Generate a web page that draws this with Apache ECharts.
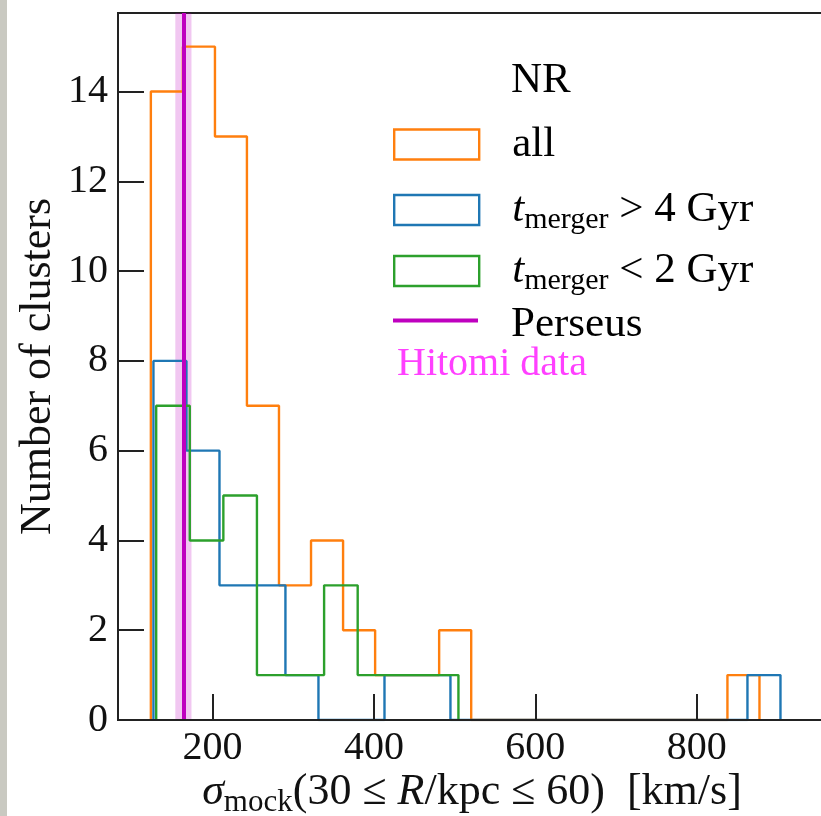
<!DOCTYPE html>
<html>
<head>
<meta charset="utf-8">
<script src="https://cdn.jsdelivr.net/npm/echarts@6/dist/echarts.min.js"></script>
<style>
  html, body { margin: 0; padding: 0; background: #ffffff; }
  #chart { position: absolute; left: 0; top: 0; width: 821px; height: 816px; }
  #stripe { position: absolute; left: 0; top: 0; width: 7px; height: 816px; background: #c9c9c1; z-index: 5; }
</style>
</head>
<body>
<div id="chart"></div>
<div id="stripe"></div>
<script>
// ---- data ----
const allEdges = [123.7, 163.4, 203.1, 242.7, 282.4, 322.1, 361.8, 401.5, 441.1, 480.8, 520.5, 560.2, 599.9, 639.5, 679.2, 718.9, 758.6, 798.3, 837.9, 877.6];
const allCounts = [14, 15, 13, 7, 3, 4, 2, 1, 1, 2, 0, 0, 0, 0, 0, 0, 0, 0, 1];
const oldEdges = [126.9, 167.8, 208.7, 249.5, 290.4, 331.3, 372.2, 413.1, 453.9, 494.8, 535.7, 576.6, 617.5, 658.3, 699.2, 740.1, 781.0, 821.9, 862.7, 903.6];
const oldCounts = [8, 6, 3, 3, 1, 0, 0, 1, 1, 0, 0, 0, 0, 0, 0, 0, 0, 0, 1];
const recentEdges = [130.3, 171.9, 213.5, 255.1, 296.7, 338.3, 379.9, 421.5, 463.1, 504.7];
const recentCounts = [7, 4, 5, 1, 1, 3, 1, 1, 1];
const perseusSigma = 164;
const perseusErr = 10;
const xTicks = [200, 400, 600, 800];
const yTicks = [0, 2, 4, 6, 8, 10, 12, 14];
const seriesNames = ['all', 't_merger > 4 Gyr', 't_merger < 2 Gyr', 'Perseus'];

const FONT = '"Liberation Serif", "DejaVu Serif", serif';
const C_ALL = '#ff7f0e', C_OLD = '#1f77b4', C_NEW = '#2ca02c', C_PER = '#bf00bf';

function stepPoints(edges, counts) {
  const pts = [[edges[0], 0]];
  for (let i = 0; i < counts.length; i++) {
    pts.push([edges[i], counts[i]]);
    pts.push([edges[i + 1], counts[i]]);
  }
  pts.push([edges[counts.length], 0]);
  return pts;
}

function histSeries(name, edges, counts, color) {
  return {
    name: name, type: 'line', data: stepPoints(edges, counts),
    symbol: 'none', showSymbol: false, silent: true, clip: true,
    lineStyle: { color: color, width: 2.4 }, itemStyle: { color: color },
    z: 3
  };
}

const legendRich = {
  p: { fontFamily: FONT, fontSize: 43, lineHeight: 30, color: '#000', padding: [0, 0, 0, 28] },
  q: { fontFamily: FONT, fontSize: 43, lineHeight: 30, color: '#000', padding: [8, 0, 0, 28] },
  t: { fontFamily: FONT, fontSize: 43, fontStyle: 'italic', lineHeight: 30, color: '#000', padding: [0, 0, 0, 28] },
  s: { fontFamily: FONT, fontSize: 30, lineHeight: 30, color: '#000', padding: [20, 0, 0, 0] },
  n: { fontFamily: FONT, fontSize: 43, lineHeight: 30, color: '#000' }
};
const legendLabel = {
  'all': '{p|all}',
  't_merger > 4 Gyr': '{t|t}{s|merger}{n| > 4 Gyr}',
  't_merger < 2 Gyr': '{t|t}{s|merger}{n| < 2 Gyr}',
  'Perseus': '{q|Perseus}'
};
function makeLegend(name, color, top, isLine) {
  return {
    show: true, orient: 'vertical', left: 393, top: top, padding: 0,
    itemWidth: 85, itemHeight: isLine ? 4 : 30, selectedMode: false,
    data: [{ name: name, icon: 'rect' }],
    itemStyle: isLine ? { color: color, borderWidth: 0 } : { color: 'rgba(255,255,255,0)', borderColor: color, borderWidth: 2.4 },
    lineStyle: { opacity: 0 },
    formatter: n => legendLabel[n],
    textStyle: { fontFamily: FONT, fontSize: 43, lineHeight: 30, color: '#000', rich: legendRich }
  };
}

const chart = echarts.init(document.getElementById('chart'), null, { renderer: 'canvas' });
chart.setOption({
  animation: false,
  backgroundColor: '#ffffff',
  grid: { left: 118, top: 13, right: -5, bottom: 96, outerBoundsMode: 'none', containLabel: false, show: true, borderColor: '#222', borderWidth: 2, backgroundColor: '#ffffff' },
  xAxis: {
    type: 'value', min: 83, max: 960, z: 10,
    axisLine: { show: true, lineStyle: { color: '#222', width: 2 } },
    axisTick: { show: true, inside: true, length: 26, lineStyle: { color: '#222', width: 2 }, customValues: xTicks },
    axisLabel: { customValues: xTicks, fontFamily: FONT, fontSize: 40, color: '#111', margin: 8 },
    splitLine: { show: false },
    name: '{i|σ}{s|mock}{n|(30 ≤ }{i|R}{n|/kpc ≤ 60)  [km/s]}',
    nameLocation: 'middle', nameGap: 50, nameMoveOverlap: false,
    nameTextStyle: {
      fontFamily: FONT, fontSize: 44, color: '#111',
      rich: {
        i: { fontFamily: FONT, fontSize: 44, fontStyle: 'italic', color: '#111', lineHeight: 44 },
        s: { fontFamily: FONT, fontSize: 31, color: '#111', lineHeight: 44, padding: [22, 0, 0, 0] },
        n: { fontFamily: FONT, fontSize: 44, color: '#111', lineHeight: 44 }
      }
    }
  },
  yAxis: {
    type: 'value', min: 0, max: 15.75, z: 10,
    axisLine: { show: true, lineStyle: { color: '#222', width: 2 } },
    axisTick: { show: true, inside: true, length: 26, lineStyle: { color: '#222', width: 2 }, customValues: yTicks },
    axisLabel: { customValues: yTicks, fontFamily: FONT, fontSize: 40, color: '#111', margin: 10 },
    splitLine: { show: false },
    name: 'Number of clusters', nameLocation: 'middle', nameGap: 58, nameMoveOverlap: false,
    nameTextStyle: { fontFamily: FONT, fontSize: 44, color: '#111' }
  },
  legend: [
    makeLegend(seriesNames[0], C_ALL, 123, false),
    makeLegend(seriesNames[1], C_OLD, 185, false),
    makeLegend(seriesNames[2], C_NEW, 246, false),
    makeLegend(seriesNames[3], C_PER, 295, true)
  ],
  graphic: [
    { type: 'text', x: 511, y: 81, z: 20, style: { text: 'NR', font: '43px ' + FONT, fill: '#000', align: 'left', verticalAlign: 'middle' } },
    { type: 'text', x: 397, y: 364, z: 20, style: { text: 'Hitomi data', font: '40px ' + FONT, fill: '#ff40ff', align: 'left', verticalAlign: 'middle' } }
  ],
  series: [
    histSeries(seriesNames[0], allEdges, allCounts, C_ALL),
    histSeries(seriesNames[1], oldEdges, oldCounts, C_OLD),
    histSeries(seriesNames[2], recentEdges, recentCounts, C_NEW),
    {
      name: seriesNames[3], type: 'line', data: [], symbol: 'none', silent: true, z: 5,
      lineStyle: { color: C_PER, width: 4 }, itemStyle: { color: C_PER },
      markArea: {
        silent: true,
        itemStyle: { color: 'rgba(191,0,191,0.22)' },
        data: [[{ xAxis: perseusSigma - perseusErr }, { xAxis: perseusSigma + perseusErr }]]
      },
      markLine: {
        silent: true, symbol: 'none', label: { show: false },
        lineStyle: { color: C_PER, width: 4, type: 'solid' },
        data: [{ xAxis: perseusSigma }]
      }
    }
  ]
});
</script>
</body>
</html>
